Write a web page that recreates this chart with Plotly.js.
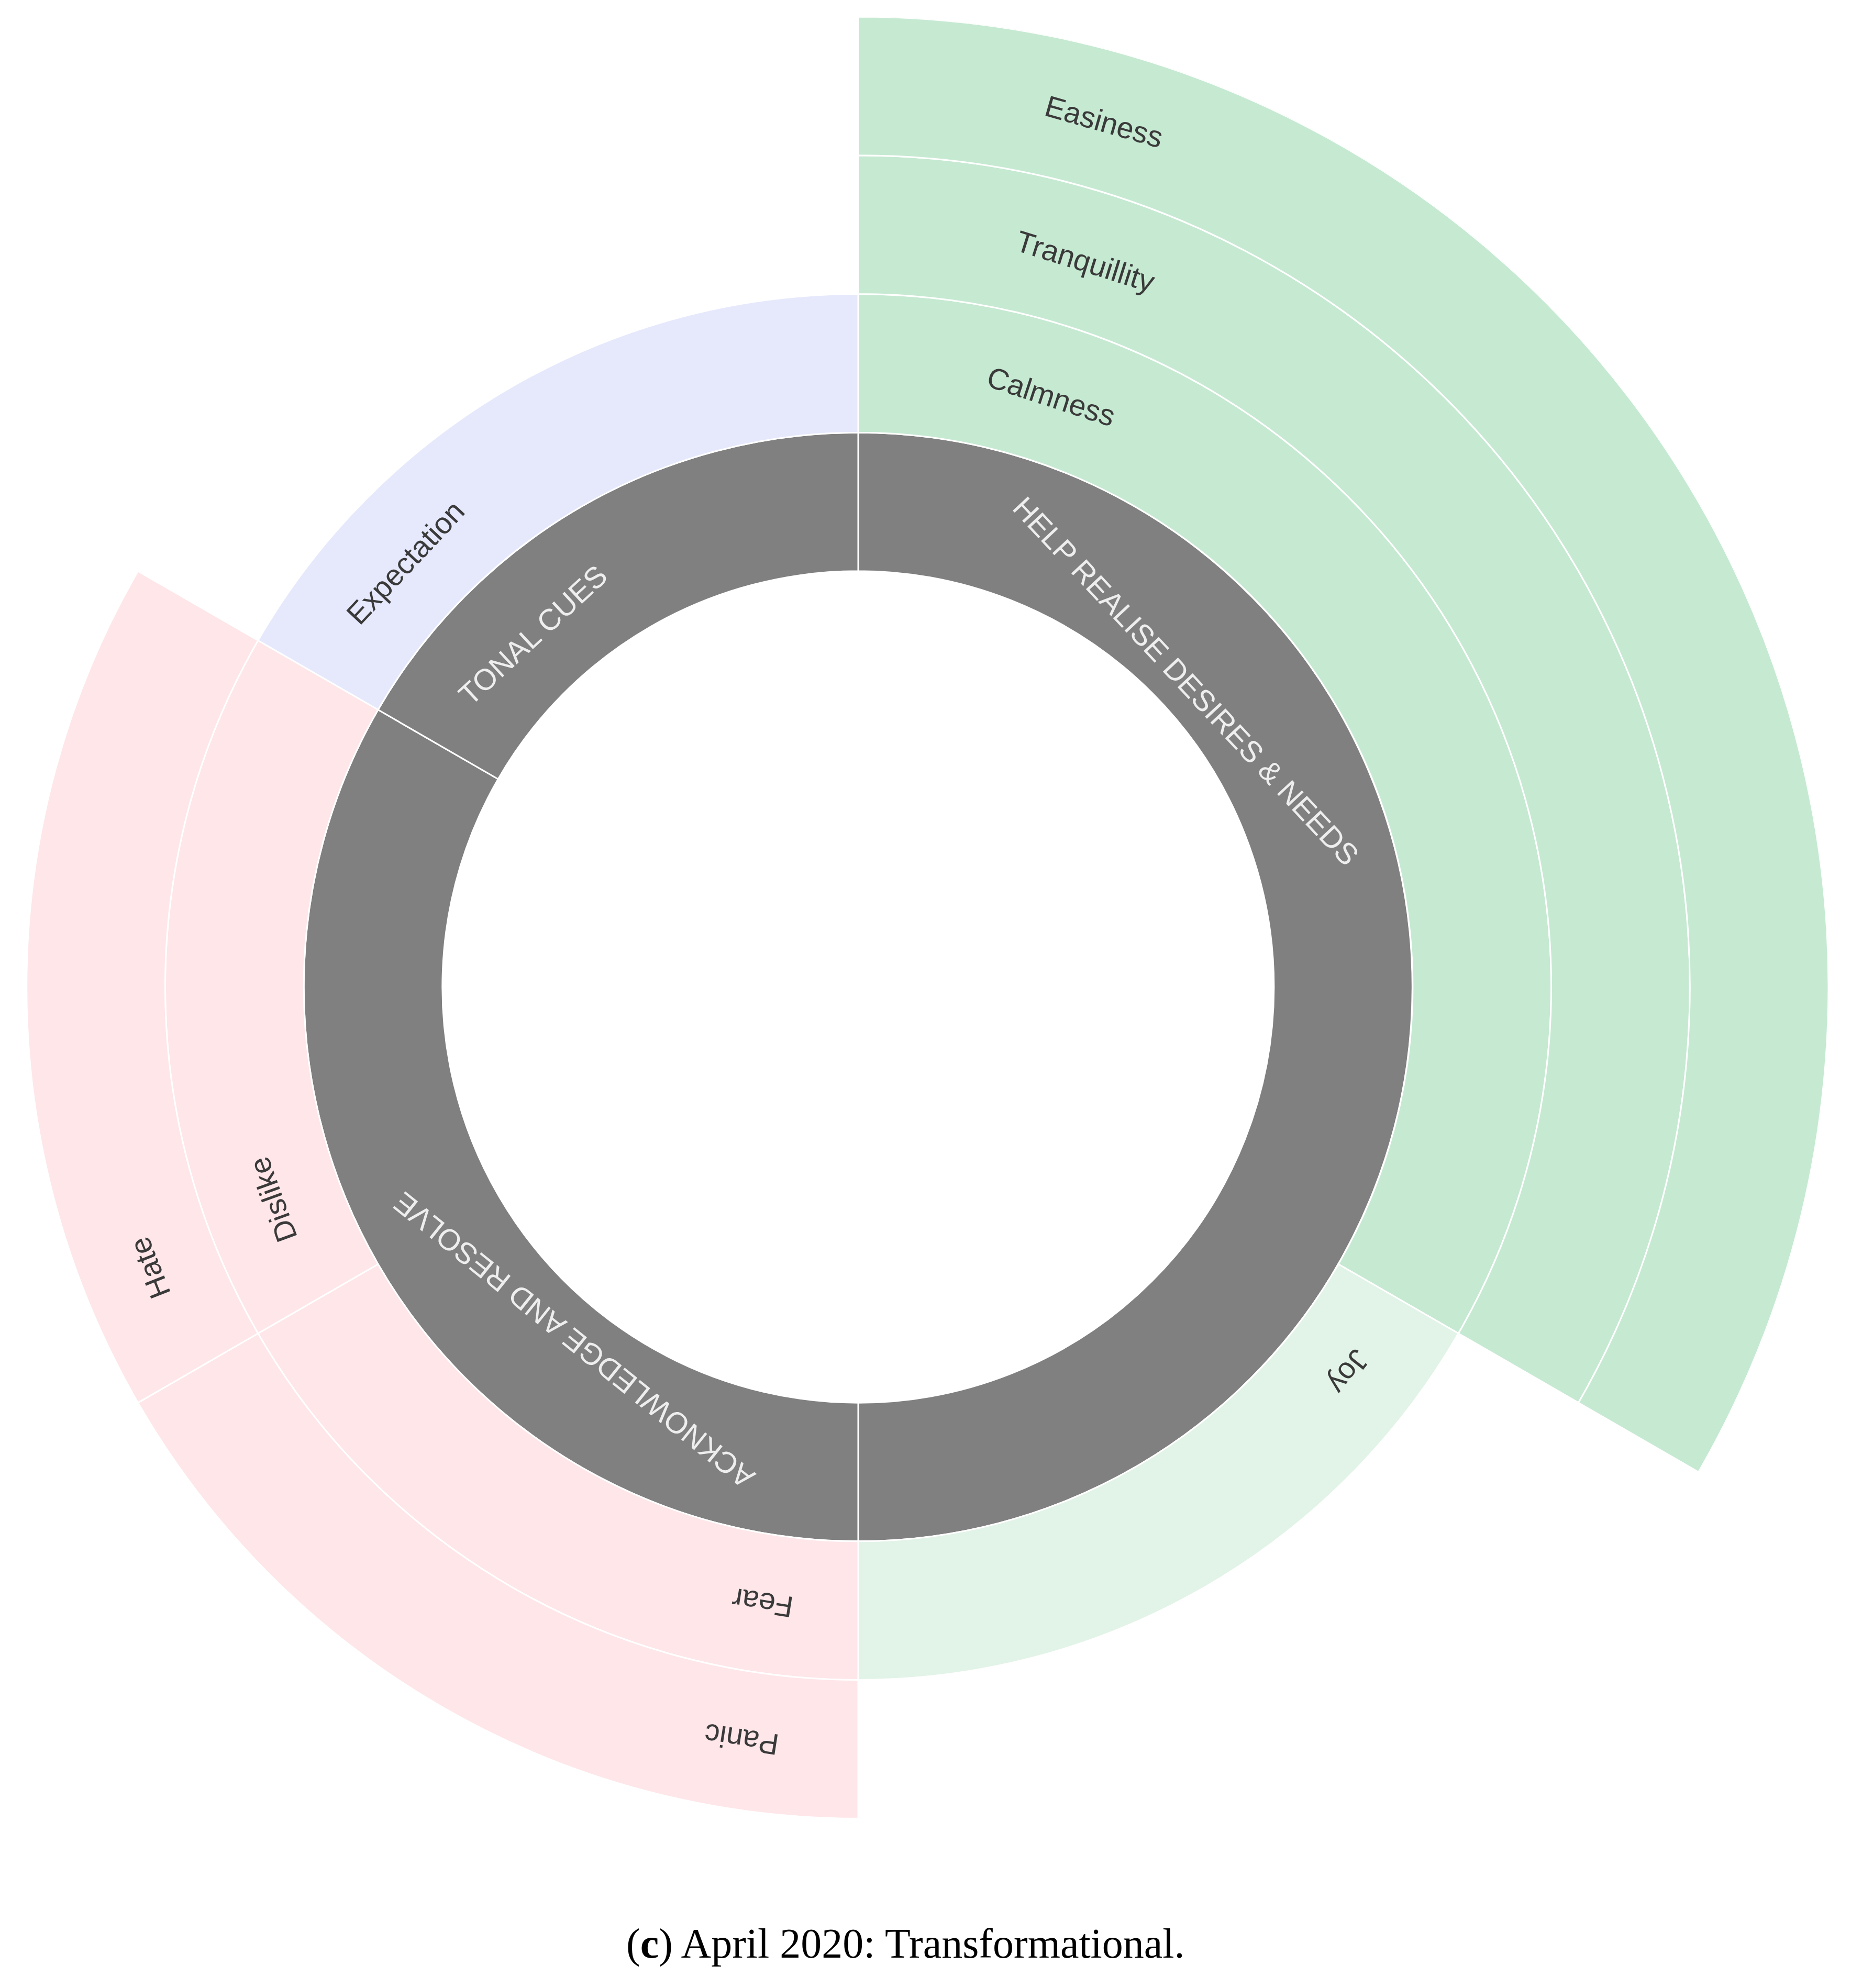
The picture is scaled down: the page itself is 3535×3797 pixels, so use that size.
<!DOCTYPE html>
<html>
<head>
<meta charset="utf-8">
<script src="https://cdn.plot.ly/plotly-3.0.1.min.js"></script>
<style>
  html, body { margin: 0; padding: 0; background: #fff; overflow: hidden; }
  /* the full circle of the outer ring would poke out on the left, so the plot is shifted */
  #chart { position: absolute; left: -300px; top: 0; width: 3835px; height: 3797px; }
</style>
</head>
<body>
<div id="chart"></div>
<script>
// ring hierarchy; values = share of the circle (in sixths)
const labels = [
  'HELP REALISE DESIRES & NEEDS', 'ACKNOWLEDGE AND RESOLVE', 'TONAL CUES',
  'Calmness', 'Joy', 'Fear', 'Dislike', 'Expectation',
  'Tranquillity', 'Panic', 'Hate',
  'Easiness'
];
const parents = [
  '', '', '',
  'HELP REALISE DESIRES & NEEDS', 'HELP REALISE DESIRES & NEEDS',
  'ACKNOWLEDGE AND RESOLVE', 'ACKNOWLEDGE AND RESOLVE', 'TONAL CUES',
  'Calmness', 'Fear', 'Dislike',
  'Tranquillity'
];
const values = [3, 2, 1, 2, 1, 1, 1, 1, 2, 1, 1, 2];

const caption = '(<b>c</b>) April 2020: Transformational.';

// ---- styling ----
const SHIFT = 300;
const W = 3535 + SHIFT, H = 3797;
const CX = 1639 + SHIFT, CY = 1885, R = 1853;
const HOLE = 3;    // empty radial units in the middle
const RINGS = 7;   // radial units up to the outer edge
const FONT = '"Liberation Sans", Arial, Helvetica, sans-serif';
const FONT_SIZE = 57;

const GREY = '#808080';
const fillOf = {
  'HELP REALISE DESIRES & NEEDS': GREY, 'ACKNOWLEDGE AND RESOLVE': GREY, 'TONAL CUES': GREY,
  'Calmness': '#c6e9d2', 'Tranquillity': '#c6e9d2', 'Easiness': '#c6e9d2',
  'Joy': '#e2f3e7',
  'Fear': '#fee6e9', 'Panic': '#fee6e9', 'Dislike': '#fee6e9', 'Hate': '#fee6e9',
  'Expectation': '#e6e9fc'
};

// ---- angular layout of the segments ----
const total = values.filter((v, i) => parents[i] === '').reduce((a, b) => a + b, 0);
const startOf = {}, depthOf = {}, usedOf = {};
labels.forEach((lab, i) => {
  const p = parents[i];
  const base = p === '' ? 0 : startOf[p];
  startOf[lab] = base + (usedOf[p] || 0);
  usedOf[p] = (usedOf[p] || 0) + values[i];
  depthOf[lab] = p === '' ? 0 : depthOf[p] + 1;
});

const deg = v => v * 360 / total;
const theta = labels.map((lab, i) => deg(startOf[lab] + values[i] / 2));
const widths = values.map(v => deg(v));
const bases = labels.map(lab => HOLE + depthOf[lab]);
const radii = labels.map(() => 1);

const trace = {
  type: 'barpolar',
  r: radii,
  base: bases,
  theta: theta,
  width: widths,
  text: labels,
  hoverinfo: 'text',
  marker: {
    color: labels.map(l => fillOf[l]),
    line: { color: '#ffffff', width: 3 }
  }
};

// ---- labels, laid along each segment starting at 10% of its arc ----
const ctx = document.createElement('canvas').getContext('2d');
ctx.font = FONT_SIZE + 'px ' + FONT;
const unitPx = R / RINGS;

const annotations = labels.map((lab, i) => {
  const s = deg(startOf[lab]);
  const a0 = s + 0.1 * widths[i];
  const rMid = HOLE + depthOf[lab] + 0.5;
  const half = (ctx.measureText(lab).width / 2) / (rMid * unitPx);
  const tc = a0 + half * 180 / Math.PI;
  // straight text: pull the middle in a bit so the ends stay near the arc
  const rr = rMid * (0.4 + 0.6 * Math.cos(half));
  const t = tc * Math.PI / 180;
  let ang = tc % 360;
  if (ang > 180) ang -= 360;
  const isGroup = parents[i] === '';
  return {
    xref: 'x', yref: 'y',
    x: rr * Math.sin(t), y: rr * Math.cos(t),
    text: lab,
    textangle: ang,
    showarrow: false,
    xanchor: 'center', yanchor: 'middle',
    font: { family: FONT, size: FONT_SIZE, color: isGroup ? '#eeeeee' : '#3a3a3a' }
  };
});

annotations.push({
  xref: 'paper', yref: 'paper',
  x: (1729 + SHIFT) / W, y: 1 - 3712 / H,
  text: caption,
  showarrow: false,
  xanchor: 'center', yanchor: 'middle',
  font: { family: '"Liberation Serif", "Times New Roman", serif', size: 80, color: '#000000' }
});

const domX = [(CX - R) / W, (CX + R) / W];
const domY = [1 - (CY + R) / H, 1 - (CY - R) / H];

const layout = {
  width: W,
  height: H,
  margin: { l: 0, r: 0, t: 0, b: 0 },
  paper_bgcolor: '#ffffff',
  plot_bgcolor: 'rgba(0,0,0,0)',
  showlegend: false,
  polar: {
    domain: { x: domX, y: domY },
    bgcolor: 'rgba(0,0,0,0)',
    barmode: 'overlay',
    bargap: 0,
    radialaxis: { visible: false, range: [0, RINGS] },
    angularaxis: { visible: false, rotation: 90, direction: 'clockwise' }
  },
  xaxis: { domain: domX, range: [-RINGS, RINGS], visible: false, fixedrange: true },
  yaxis: { domain: domY, range: [-RINGS, RINGS], visible: false, fixedrange: true },
  annotations: annotations
};

Plotly.newPlot('chart', [trace], layout, { displayModeBar: false, staticPlot: true });
</script>
</body>
</html>
